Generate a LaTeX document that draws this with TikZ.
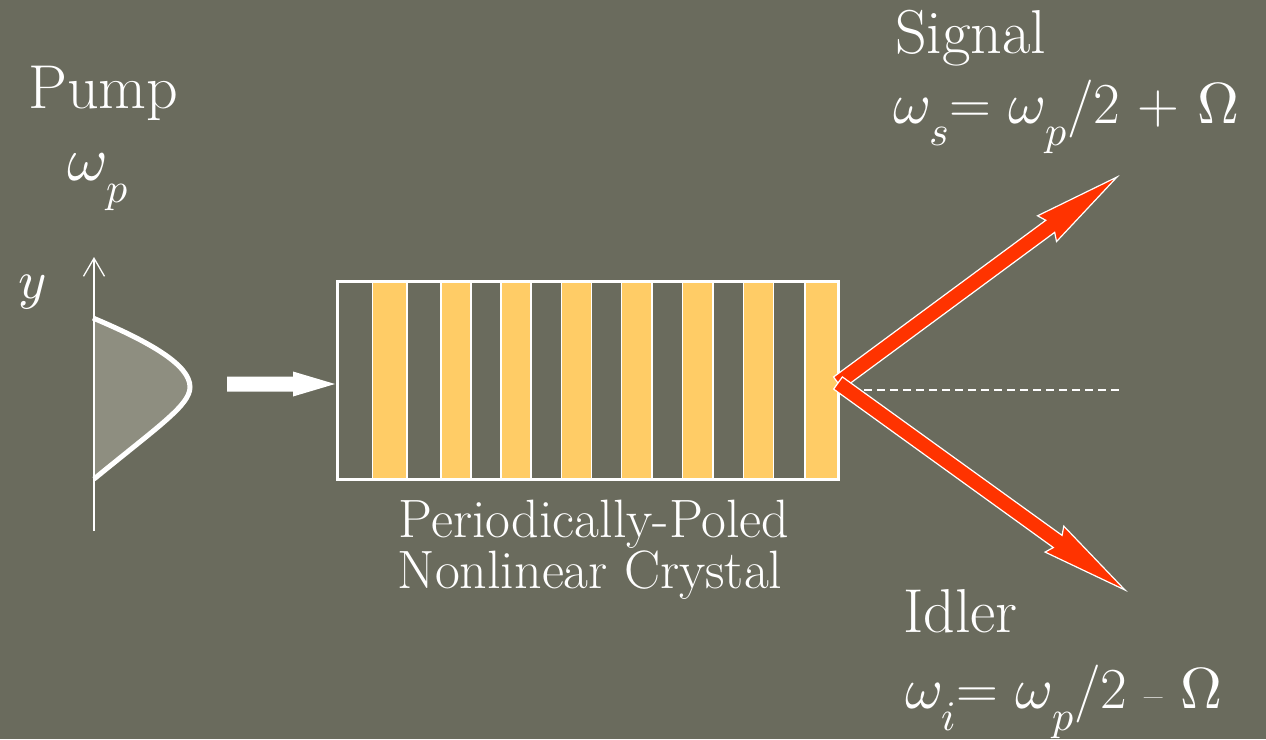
\documentclass[tikz,border=0pt]{standalone}
\usepackage{unicode-math}
\usetikzlibrary{calc,arrows.meta}
\definecolor{bgcol}{HTML}{6A6B5D}
\definecolor{pumpfill}{HTML}{8E8E80}
\definecolor{polecol}{HTML}{FFCC66}
\definecolor{beamcol}{HTML}{FF3300}
\newcommand\lowsub[1]{\raisebox{-22pt}{\fontsize{42}{42}\selectfont$#1$}}
\newcommand\bigtext{\fontsize{62}{66}\selectfont}
\newcommand\eqtext{\fontsize{58}{62}\selectfont}
\tikzset{
  lbl/.style={text=white, inner sep=0pt, anchor=base west, font=\bigtext},
  eqlbl/.style={lbl, font=\eqtext},
  clbl/.style={text=white, inner sep=0pt, anchor=base, font=\fontsize{54}{56}\selectfont},
  polebox/.style={fill=polecol, draw=white, line width=1.5pt},
  beam/.style={fill=beamcol, draw=white, line width=1.2pt, line join=miter},
}
\newcommand\beamarrow[3]{%
  \coordinate (#3b) at ($(#2)!83pt!(#1)$);
  \coordinate (#3c) at ($(#2)!87pt!(#1)$);
  \filldraw[beam] ($(#1)!7.5pt!90:(#2)$) -- ($(#3b)!7.5pt!90:(#2)$) -- ($(#3c)!16pt!90:(#2)$)
    -- (#2) -- ($(#3c)!16pt!-90:(#2)$) -- ($(#3b)!7.5pt!-90:(#2)$) -- ($(#1)!7.5pt!-90:(#2)$) -- cycle;
}
\begin{document}
\begin{tikzpicture}[x=1pt,y=-1pt]
\fill[bgcol] (0,0) rectangle (1266,739);
\useasboundingbox (0,0) rectangle (1266,739);

% pump profile
\fill[pumpfill] (94,318) .. controls (150,342) and (190,365) .. (190,387)
  .. controls (190,405) and (160,425) .. (94,479) -- cycle;
\draw[white, line width=5pt] (93,318) .. controls (150,342) and (190,365) .. (190,387)
  .. controls (190,405) and (160,425) .. (94,479);
\coordinate (axisbot) at (94,531);
\coordinate (axistop) at (94,257);
\draw[white, line width=1.3pt, -{Straight Barb[length=18pt,width=21pt]}] (axisbot) -- (axistop);

% pump arrow
\fill[white] (227,376.5) -- (293,376.5) -- (293,371.5) -- (335,384) -- (293,396.5) -- (293,391.5) -- (227,391.5) -- cycle;

% crystal
\foreach \a/\b in {372.7/406.8, 441/471, 501/531, 561.7/591.7, 621.7/652, 682.7/713, 743.3/773.3, 805/838.5}
  \draw[polebox] (\a,281) rectangle (\b,479);
\node[draw=white, line width=3pt, minimum width=501pt, minimum height=198pt, inner sep=0pt] (crystal) at (588,380) {};

% axis line
\coordinate (dashend) at (1120,390);
\draw[white, line width=1.5pt, dash pattern=on 7.5pt off 5.5pt] (838,390) -- (dashend);

% beams
\coordinate (src) at (838,383);
\coordinate (sigtip) at (1117,177);
\coordinate (idltip) at (1125,590);
\beamarrow{src}{sigtip}{sig}
\beamarrow{src}{idltip}{idl}

% labels
\node[lbl] (pump) at (28,108) {Pump};
\node[lbl] (wp) at (67,180) {$\omega$\lowsub{p}};
\node[lbl, font=\fontsize{54}{54}\selectfont] (ylab) at (18,298) {$y$};
\node[lbl] (signal) at (895,53) {Signal};
\node[eqlbl] (ws) at (893,123) {$\omega$\lowsub{s}= $\omega$\lowsub{p}/2 + $\Omega$};
\node[lbl] (idler) at (903,632) {Idler};
\node[eqlbl] (wi) at (905,708) {$\omega$\lowsub{i}= $\omega$\lowsub{p}/2 {\fontsize{40}{40}\selectfont --} $\Omega$};
\node[clbl] (cl1) at (594,537) {Periodically-Poled};
\node[clbl] (cl2) at (590,588) {Nonlinear Crystal};
\end{tikzpicture}
\end{document}
